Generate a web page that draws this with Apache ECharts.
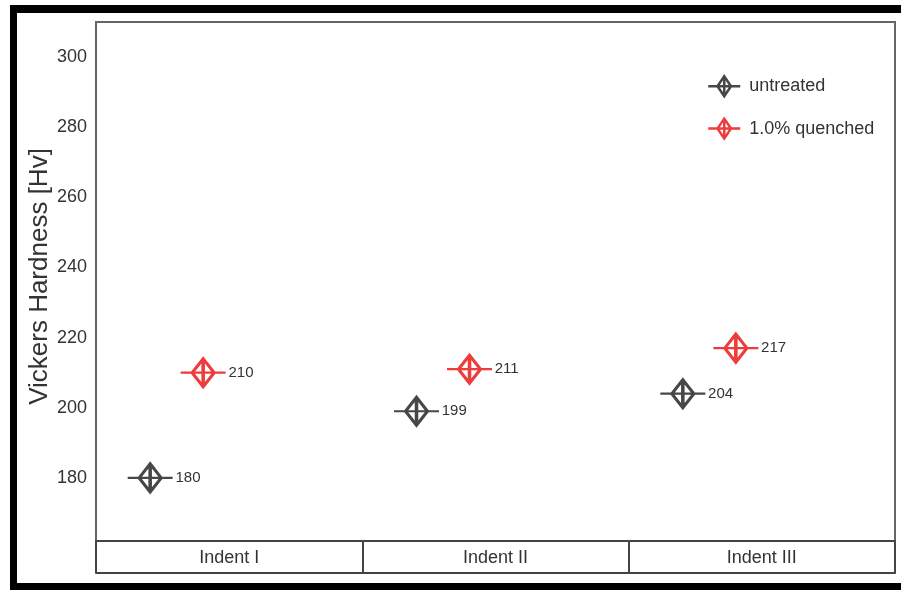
<!DOCTYPE html>
<html>
<head>
<meta charset="utf-8">
<script src="https://cdn.jsdelivr.net/npm/echarts@6/dist/echarts.min.js"></script>
<style>
html,body{margin:0;padding:0;background:#fff;}
#chart{width:901px;height:590px;}
</style>
</head>
<body>
<div id="chart"></div>
<script>
const categories = ['Indent I', 'Indent II', 'Indent III'];
const seriesNames = ['untreated', '1.0% quenched'];
const untreated = [180, 199, 204];
const quenched = [210, 211, 217];
const yTickLabels = [180, 200, 220, 240, 260, 280, 300];
const yTitle = 'Vickers Hardness [Hv]';

const markerPath = 'path://M0,14 L45,14 M11.5,14 L22.5,0 L33.5,14 L22.5,28 Z M22.5,0 L22.5,28';
const legendPath = 'path://M0,14 L45,14 M13,14 L22.5,0 L32,14 L22.5,28 Z M22.5,0 L22.5,28';
const DARK = '#474747';
const RED = '#ee3b3b';
const FONT = '"Liberation Sans", Arial, sans-serif';

function makeSeries(name, data, color, offsetX) {
  return {
    name: name,
    type: 'scatter',
    xAxisIndex: 0,
    yAxisIndex: 0,
    data: data,
    symbol: markerPath,
    symbolSize: [45, 28],
    symbolOffset: [offsetX, 0],
    itemStyle: { color: 'transparent', borderColor: color, borderWidth: 2.8, opacity: 1 },
    emphasis: { disabled: true },
    label: {
      show: true,
      position: 'right',
      distance: 1,
      color: '#333',
      fontSize: 15,
      fontFamily: FONT
    }
  };
}

const chart = echarts.init(document.getElementById('chart'), null, { renderer: 'canvas' });
chart.setOption({
  animation: false,
  backgroundColor: '#fff',
  grid: {
    left: 96, top: 22, right: 6, bottom: 49,
    show: true, borderColor: '#666', borderWidth: 2, backgroundColor: 'transparent'
  },
  legend: {
    orient: 'vertical',
    left: 707,
    top: 75,
    padding: 0,
    itemWidth: 32,
    itemHeight: 26,
    itemGap: 20,
    data: [
      { name: seriesNames[0], icon: legendPath },
      { name: seriesNames[1], icon: legendPath }
    ],
    itemStyle: { borderWidth: 2.5 },
    textStyle: { fontSize: 18, color: '#333', fontFamily: FONT, padding: [0, 0, 4, 4] }
  },
  xAxis: [
    {
      type: 'category',
      data: categories,
      boundaryGap: true,
      axisLine: { show: true, lineStyle: { color: '#444', width: 2 } },
      axisTick: { show: true, length: 32, alignWithLabel: false, lineStyle: { color: '#444', width: 2 } },
      axisLabel: { margin: 8, fontSize: 18, color: '#333', fontFamily: FONT },
      splitLine: { show: false }
    },
    {
      type: 'category',
      data: categories,
      position: 'bottom',
      offset: 32,
      axisLine: { show: true, lineStyle: { color: '#444', width: 2 } },
      axisTick: { show: false },
      axisLabel: { show: false },
      splitLine: { show: false }
    }
  ],
  yAxis: {
    type: 'value',
    min: 162,
    max: 310,
    interval: 2,
    name: yTitle,
    nameLocation: 'middle',
    nameRotate: 90,
    nameGap: 43,
    nameMoveOverlap: false,
    nameTextStyle: { fontSize: 26, color: '#333', fontFamily: FONT, padding: [0, 0, 0, 10] },
    axisLine: { show: true, lineStyle: { color: '#666', width: 2 } },
    axisTick: { show: false },
    splitLine: { show: false },
    axisLabel: {
      margin: 9,
      fontSize: 18,
      color: '#333',
      fontFamily: FONT,
      formatter: function (v) { return yTickLabels.indexOf(v) >= 0 ? String(v) : ''; }
    }
  },
  series: [
    makeSeries(seriesNames[0], untreated, DARK, -79),
    makeSeries(seriesNames[1], quenched, RED, -26)
  ],
  graphic: [
    { type: 'rect', shape: { x: 10, y: 5, width: 891, height: 8 }, style: { fill: '#000' }, silent: true },
    { type: 'rect', shape: { x: 10, y: 5, width: 7, height: 585 }, style: { fill: '#000' }, silent: true },
    { type: 'rect', shape: { x: 10, y: 583, width: 891, height: 7 }, style: { fill: '#000' }, silent: true }
  ]
});
</script>
</body>
</html>
